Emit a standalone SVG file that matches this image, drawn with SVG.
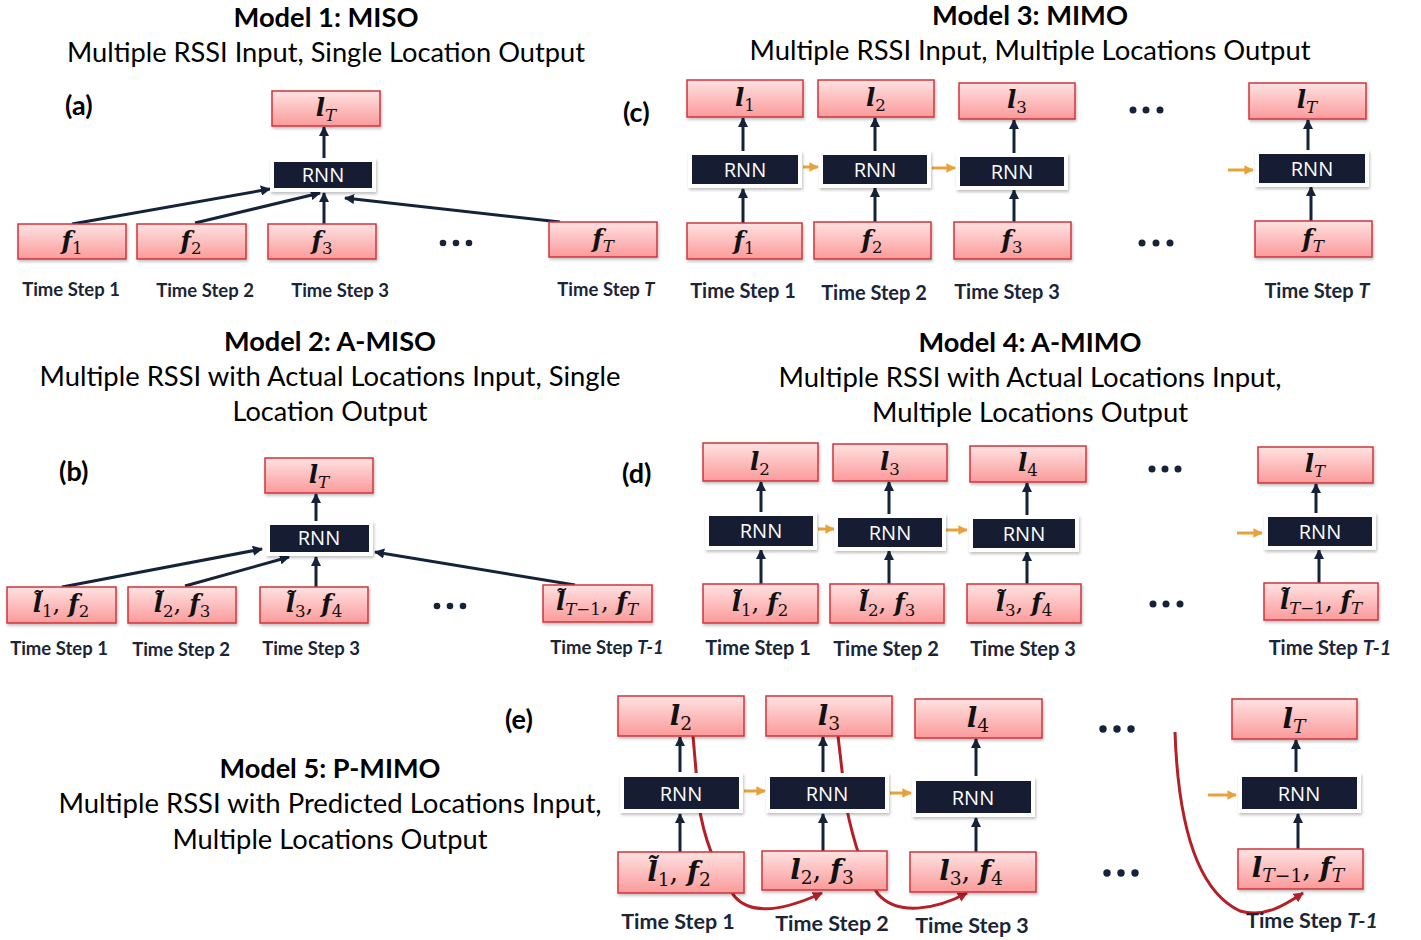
<svg xmlns="http://www.w3.org/2000/svg" width="1421" height="940" viewBox="0 0 1421 940">
<defs>
<linearGradient id="pg" x1="0" y1="0" x2="0" y2="1">
<stop offset="0" stop-color="#FFE2E2"/>
<stop offset="1" stop-color="#FB9A9A"/>
</linearGradient>
<filter id="sh" x="-10%" y="-20%" width="130%" height="160%">
<feDropShadow dx="1" dy="2" stdDeviation="1.5" flood-color="#000" flood-opacity="0.25"/>
</filter>
<marker id="ah" viewBox="0 0 10 10" refX="9" refY="5" markerWidth="3.4" markerHeight="3.4" orient="auto">
<path d="M0,0 L10,5 L0,10 z" fill="#15233A"/>
</marker>
<marker id="ao" viewBox="0 0 10 10" refX="9" refY="5" markerWidth="3.2" markerHeight="3.2" orient="auto">
<path d="M0,0 L10,5 L0,10 z" fill="#E9A23B"/>
</marker>
<marker id="ar" viewBox="0 0 10 10" refX="9" refY="5" markerWidth="3.4" markerHeight="3.4" orient="auto">
<path d="M0,0 L10,5 L0,10 z" fill="#B51F26"/>
</marker>
</defs>
<style>
.pk{fill:url(#pg);stroke:#D0343C;stroke-width:1.5;filter:url(#sh)}
.rn{fill:#131F32;stroke:#FFFFFF;stroke-width:4;filter:url(#sh)}
.rt{font-family:"Open Sans","Noto Sans",sans-serif;font-size:20px;fill:#FFFFFF;text-anchor:middle}
.m{font-family:"DejaVu Serif","Liberation Serif",serif;font-size:24.5px;fill:#111111;text-anchor:middle}
.mb{font-family:"DejaVu Serif","Liberation Serif",serif;font-size:27.5px;fill:#111111;text-anchor:middle}
.v{font-weight:bold;font-style:italic}
.s{font-size:0.68em;font-weight:normal;font-style:normal}
.si{font-size:0.68em;font-weight:normal;font-style:italic}
.ts{font-family:Lato,"Open Sans",sans-serif;font-weight:bold;fill:#1B2538;text-anchor:middle}
.t1{font-family:Lato,"Open Sans",sans-serif;font-weight:bold;font-size:27px;fill:#000;text-anchor:middle}
.t2{font-family:Lato,"Open Sans",sans-serif;font-size:26px;fill:#000;text-anchor:middle}
.pl{font-family:Lato,"Open Sans",sans-serif;font-weight:bold;font-size:27px;fill:#000}
.ln{stroke:#15233A;stroke-width:3;fill:none;marker-end:url(#ah)}
.lo{stroke:#E9A23B;stroke-width:3;fill:none;marker-end:url(#ao)}
.lr{stroke:#B51F26;stroke-width:3;fill:none;marker-end:url(#ar)}
.dt{fill:#15233A}
</style>
<rect width="1421" height="940" fill="#FFFFFF"/>

<!-- titles -->
<g id="titles">
<text class="t1" x="326" y="27" textLength="185" lengthAdjust="spacingAndGlyphs">Model 1: MISO</text>
<text class="t2" x="326" y="62" textLength="518" lengthAdjust="spacingAndGlyphs">Multiple RSSI Input, Single Location Output</text>
<text class="t1" x="1030" y="25" textLength="196" lengthAdjust="spacingAndGlyphs">Model 3: MIMO</text>
<text class="t2" x="1030" y="60" textLength="561" lengthAdjust="spacingAndGlyphs">Multiple RSSI Input, Multiple Locations Output</text>
<text class="t1" x="330" y="351" textLength="212" lengthAdjust="spacingAndGlyphs">Model 2: A-MISO</text>
<text class="t2" x="330" y="386" textLength="581" lengthAdjust="spacingAndGlyphs">Multiple RSSI with Actual Locations Input, Single</text>
<text class="t2" x="330" y="421" textLength="195" lengthAdjust="spacingAndGlyphs">Location Output</text>
<text class="t1" x="1030" y="352" textLength="223" lengthAdjust="spacingAndGlyphs">Model 4: A-MIMO</text>
<text class="t2" x="1030" y="387" textLength="503" lengthAdjust="spacingAndGlyphs">Multiple RSSI with Actual Locations Input,</text>
<text class="t2" x="1030" y="422" textLength="316" lengthAdjust="spacingAndGlyphs">Multiple Locations Output</text>
<text class="t1" x="330" y="778" textLength="221" lengthAdjust="spacingAndGlyphs">Model 5: P-MIMO</text>
<text class="t2" x="330" y="813" textLength="543" lengthAdjust="spacingAndGlyphs">Multiple RSSI with Predicted Locations Input,</text>
<text class="t2" x="330" y="849" textLength="315" lengthAdjust="spacingAndGlyphs">Multiple Locations Output</text>
<text class="pl" x="65" y="115">(a)</text>
<text class="pl" x="59" y="481">(b)</text>
<text class="pl" x="623" y="122">(c)</text>
<text class="pl" x="622" y="483">(d)</text>
<text class="pl" x="505" y="729">(e)</text>
</g>

<!-- connectors -->
<g id="connectors">
<!-- a -->
<line class="ln" x1="72" y1="224" x2="270" y2="189"/>
<line class="ln" x1="195" y1="223" x2="320" y2="193"/>
<line class="ln" x1="324" y1="224" x2="324" y2="193"/>
<line class="ln" x1="560" y1="222" x2="345" y2="198"/>
<line class="ln" x1="324" y1="158" x2="324" y2="127"/>
<!-- b -->
<line class="ln" x1="62" y1="587" x2="262" y2="549"/>
<line class="ln" x1="185" y1="586" x2="289" y2="557"/>
<line class="ln" x1="316" y1="587" x2="316" y2="557"/>
<line class="ln" x1="575" y1="585" x2="375" y2="552"/>
<line class="ln" x1="316" y1="521" x2="316" y2="494"/>
<!-- c -->
<line class="ln" x1="743" y1="151" x2="743" y2="118"/>
<line class="ln" x1="743" y1="223" x2="743" y2="189"/>
<line class="ln" x1="875" y1="151" x2="875" y2="118"/>
<line class="ln" x1="875" y1="222" x2="875" y2="188"/>
<line class="ln" x1="1014" y1="153" x2="1014" y2="120"/>
<line class="ln" x1="1014" y1="222" x2="1014" y2="190"/>
<line class="ln" x1="1308" y1="150" x2="1308" y2="120"/>
<line class="ln" x1="1311" y1="221" x2="1311" y2="187"/>
<line class="lo" x1="803" y1="167" x2="818" y2="167"/>
<line class="lo" x1="932" y1="168" x2="955" y2="168"/>
<line class="lo" x1="1228" y1="170" x2="1253" y2="170"/>
<!-- d -->
<line class="ln" x1="761" y1="512" x2="761" y2="482"/>
<line class="ln" x1="761" y1="584" x2="761" y2="550"/>
<line class="ln" x1="889" y1="514" x2="889" y2="482"/>
<line class="ln" x1="889" y1="584" x2="889" y2="551"/>
<line class="ln" x1="1027" y1="515" x2="1027" y2="483"/>
<line class="ln" x1="1027" y1="584" x2="1027" y2="552"/>
<line class="ln" x1="1316" y1="513" x2="1316" y2="484"/>
<line class="ln" x1="1319" y1="583" x2="1319" y2="550"/>
<line class="lo" x1="818" y1="529" x2="834" y2="529"/>
<line class="lo" x1="946" y1="530" x2="967" y2="530"/>
<line class="lo" x1="1237" y1="533" x2="1262" y2="533"/>
<!-- e -->
<path class="lr" d="M693,736 L699,805 C703,835 716,872 735,897 C752,916 785,910 822,893"/>
<path class="lr" d="M838,736 L846,805 C852,835 862,872 878,894 C897,916 935,910 967,893"/>
<path class="lr" d="M1175,732 C1178,820 1195,890 1240,911 C1265,918 1285,905 1303,893"/>
<line class="ln" x1="680" y1="772" x2="680" y2="737"/>
<line class="ln" x1="680" y1="852" x2="680" y2="814"/>
<line class="ln" x1="823" y1="772" x2="823" y2="737"/>
<line class="ln" x1="823" y1="851" x2="823" y2="814"/>
<line class="ln" x1="976" y1="776" x2="976" y2="739"/>
<line class="ln" x1="976" y1="852" x2="976" y2="818"/>
<line class="ln" x1="1296" y1="772" x2="1296" y2="740"/>
<line class="ln" x1="1298" y1="849" x2="1298" y2="814"/>
<line class="lo" x1="744" y1="791" x2="765" y2="791"/>
<line class="lo" x1="890" y1="793" x2="911" y2="793"/>
<line class="lo" x1="1208" y1="795" x2="1236" y2="795"/>
</g>

<!-- panel a -->
<g id="a-lT"><rect class="pk" x="272" y="91" width="108" height="35"/><text class="m" x="326" y="116"><tspan class="v">l</tspan><tspan class="si" dy="5">T</tspan></text></g>
<g id="a-rnn"><rect class="rn" x="272" y="160" width="102" height="30"/><text class="rt" x="323" y="182">RNN</text></g>
<g id="a-f1"><rect class="pk" x="18" y="224" width="108" height="35"/><text class="m" x="72" y="249"><tspan class="v">f</tspan><tspan class="s" dy="5">1</tspan></text></g>
<g id="a-f2"><rect class="pk" x="137" y="224" width="109" height="35"/><text class="m" x="191" y="249"><tspan class="v">f</tspan><tspan class="s" dy="5">2</tspan></text></g>
<g id="a-f3"><rect class="pk" x="268" y="224" width="108" height="35"/><text class="m" x="322" y="249"><tspan class="v">f</tspan><tspan class="s" dy="5">3</tspan></text></g>
<g id="a-fT"><rect class="pk" x="549" y="222" width="108" height="35"/><text class="m" x="603" y="247"><tspan class="v">f</tspan><tspan class="si" dy="5">T</tspan></text></g>
<g id="a-labels">
<text class="ts" x="71" y="296" font-size="18.5">Time Step 1</text>
<text class="ts" x="205" y="297" font-size="18.5">Time Step 2</text>
<text class="ts" x="340" y="297" font-size="18.5">Time Step 3</text>
<text class="ts" x="606" y="296" font-size="18.5">Time Step <tspan font-style="italic">T</tspan></text>
<circle class="dt" cx="443" cy="243" r="3.3"/><circle class="dt" cx="456" cy="243" r="3.3"/><circle class="dt" cx="469" cy="243" r="3.3"/>
</g>

<!-- panel b -->
<g id="b-lT"><rect class="pk" x="265" y="458" width="108" height="35"/><text class="m" x="319" y="483"><tspan class="v">l</tspan><tspan class="si" dy="5">T</tspan></text></g>
<g id="b-rnn"><rect class="rn" x="268" y="523" width="103" height="31"/><text class="rt" x="319" y="545">RNN</text></g>
<g id="b-x1"><rect class="pk" x="7" y="587" width="109" height="36"/><text class="m" x="61" y="612"><tspan class="v">l̃</tspan><tspan class="s" dy="5">1</tspan><tspan dy="-5">, </tspan><tspan class="v">f</tspan><tspan class="s" dy="5">2</tspan></text></g>
<g id="b-x2"><rect class="pk" x="128" y="587" width="108" height="36"/><text class="m" x="182" y="612"><tspan class="v">l̃</tspan><tspan class="s" dy="5">2</tspan><tspan dy="-5">, </tspan><tspan class="v">f</tspan><tspan class="s" dy="5">3</tspan></text></g>
<g id="b-x3"><rect class="pk" x="260" y="587" width="108" height="36"/><text class="m" x="314" y="612"><tspan class="v">l̃</tspan><tspan class="s" dy="5">3</tspan><tspan dy="-5">, </tspan><tspan class="v">f</tspan><tspan class="s" dy="5">4</tspan></text></g>
<g id="b-xT"><rect class="pk" x="543" y="585" width="109" height="37"/><text class="m" x="597" y="610"><tspan class="v">l̃</tspan><tspan class="si" dy="5">T</tspan><tspan class="s">−1</tspan><tspan dy="-5">, </tspan><tspan class="v">f</tspan><tspan class="si" dy="5">T</tspan></text></g>
<g id="b-labels">
<text class="ts" x="59" y="655" font-size="18.5">Time Step 1</text>
<text class="ts" x="181" y="656" font-size="18.5">Time Step 2</text>
<text class="ts" x="311" y="655" font-size="18.5">Time Step 3</text>
<text class="ts" x="607" y="654" font-size="18.5">Time Step <tspan font-style="italic">T-1</tspan></text>
<circle class="dt" cx="437" cy="606" r="3.3"/><circle class="dt" cx="450" cy="606" r="3.3"/><circle class="dt" cx="463" cy="606" r="3.3"/>
</g>

<!-- panel c -->
<g id="c-l1"><rect class="pk" x="687" y="80" width="116" height="37"/><text class="m" x="745" y="106"><tspan class="v">l</tspan><tspan class="s" dy="5">1</tspan></text></g>
<g id="c-l2"><rect class="pk" x="818" y="80" width="116" height="37"/><text class="m" x="876" y="106"><tspan class="v">l</tspan><tspan class="s" dy="5">2</tspan></text></g>
<g id="c-l3"><rect class="pk" x="959" y="83" width="116" height="36"/><text class="m" x="1017" y="108"><tspan class="v">l</tspan><tspan class="s" dy="5">3</tspan></text></g>
<g id="c-lT"><rect class="pk" x="1249" y="83" width="117" height="36"/><text class="m" x="1307" y="108"><tspan class="v">l</tspan><tspan class="si" dy="5">T</tspan></text></g>
<g id="c-rnn1"><rect class="rn" x="690" y="153" width="110" height="33"/><text class="rt" x="745" y="177">RNN</text></g>
<g id="c-rnn2"><rect class="rn" x="821" y="153" width="108" height="33"/><text class="rt" x="875" y="177">RNN</text></g>
<g id="c-rnn3"><rect class="rn" x="958" y="155" width="108" height="33"/><text class="rt" x="1012" y="179">RNN</text></g>
<g id="c-rnnT"><rect class="rn" x="1257" y="152" width="110" height="33"/><text class="rt" x="1312" y="176">RNN</text></g>
<g id="c-f1"><rect class="pk" x="687" y="223" width="115" height="36"/><text class="m" x="744" y="249"><tspan class="v">f</tspan><tspan class="s" dy="5">1</tspan></text></g>
<g id="c-f2"><rect class="pk" x="814" y="222" width="117" height="37"/><text class="m" x="872" y="248"><tspan class="v">f</tspan><tspan class="s" dy="5">2</tspan></text></g>
<g id="c-f3"><rect class="pk" x="954" y="222" width="117" height="37"/><text class="m" x="1012" y="248"><tspan class="v">f</tspan><tspan class="s" dy="5">3</tspan></text></g>
<g id="c-fT"><rect class="pk" x="1255" y="221" width="117" height="36"/><text class="m" x="1313" y="247"><tspan class="v">f</tspan><tspan class="si" dy="5">T</tspan></text></g>
<g id="c-labels">
<text class="ts" x="743" y="298" font-size="20">Time Step 1</text>
<text class="ts" x="874" y="300" font-size="20">Time Step 2</text>
<text class="ts" x="1007" y="299" font-size="20">Time Step 3</text>
<text class="ts" x="1317" y="298" font-size="20">Time Step <tspan font-style="italic">T</tspan></text>
<circle class="dt" cx="1133" cy="110" r="3.5"/><circle class="dt" cx="1146" cy="110" r="3.5"/><circle class="dt" cx="1160" cy="110" r="3.5"/>
<circle class="dt" cx="1142" cy="243" r="3.5"/><circle class="dt" cx="1156" cy="243" r="3.5"/><circle class="dt" cx="1170" cy="243" r="3.5"/>
</g>

<!-- panel d -->
<g id="d-l2"><rect class="pk" x="703" y="443" width="115" height="38"/><text class="m" x="760" y="470"><tspan class="v">l</tspan><tspan class="s" dy="5">2</tspan></text></g>
<g id="d-l3"><rect class="pk" x="833" y="444" width="114" height="37"/><text class="m" x="890" y="470"><tspan class="v">l</tspan><tspan class="s" dy="5">3</tspan></text></g>
<g id="d-l4"><rect class="pk" x="970" y="446" width="116" height="36"/><text class="m" x="1028" y="471"><tspan class="v">l</tspan><tspan class="s" dy="5">4</tspan></text></g>
<g id="d-lT"><rect class="pk" x="1258" y="447" width="115" height="36"/><text class="m" x="1315" y="472"><tspan class="v">l</tspan><tspan class="si" dy="5">T</tspan></text></g>
<g id="d-rnn1"><rect class="rn" x="707" y="514" width="108" height="34"/><text class="rt" x="761" y="538">RNN</text></g>
<g id="d-rnn2"><rect class="rn" x="836" y="516" width="108" height="33"/><text class="rt" x="890" y="540">RNN</text></g>
<g id="d-rnn3"><rect class="rn" x="971" y="517" width="106" height="33"/><text class="rt" x="1024" y="541">RNN</text></g>
<g id="d-rnnT"><rect class="rn" x="1266" y="515" width="108" height="33"/><text class="rt" x="1320" y="539">RNN</text></g>
<g id="d-x1"><rect class="pk" x="703" y="584" width="115" height="39"/><text class="m" x="760" y="611"><tspan class="v">l̃</tspan><tspan class="s" dy="5">1</tspan><tspan dy="-5">, </tspan><tspan class="v">f</tspan><tspan class="s" dy="5">2</tspan></text></g>
<g id="d-x2"><rect class="pk" x="830" y="584" width="114" height="39"/><text class="m" x="887" y="611"><tspan class="v">l̃</tspan><tspan class="s" dy="5">2</tspan><tspan dy="-5">, </tspan><tspan class="v">f</tspan><tspan class="s" dy="5">3</tspan></text></g>
<g id="d-x3"><rect class="pk" x="967" y="584" width="114" height="39"/><text class="m" x="1024" y="611"><tspan class="v">l̃</tspan><tspan class="s" dy="5">3</tspan><tspan dy="-5">, </tspan><tspan class="v">f</tspan><tspan class="s" dy="5">4</tspan></text></g>
<g id="d-xT"><rect class="pk" x="1264" y="583" width="114" height="37"/><text class="m" x="1321" y="609"><tspan class="v">l̃</tspan><tspan class="si" dy="5">T</tspan><tspan class="s">−1</tspan><tspan dy="-5">, </tspan><tspan class="v">f</tspan><tspan class="si" dy="5">T</tspan></text></g>
<g id="d-labels">
<text class="ts" x="758" y="655" font-size="20">Time Step 1</text>
<text class="ts" x="886" y="656" font-size="20">Time Step 2</text>
<text class="ts" x="1023" y="656" font-size="20">Time Step 3</text>
<text class="ts" x="1330" y="655" font-size="20">Time Step <tspan font-style="italic">T-1</tspan></text>
<circle class="dt" cx="1152" cy="469" r="3.5"/><circle class="dt" cx="1165" cy="469" r="3.5"/><circle class="dt" cx="1178" cy="469" r="3.5"/>
<circle class="dt" cx="1153" cy="604" r="3.5"/><circle class="dt" cx="1166" cy="604" r="3.5"/><circle class="dt" cx="1180" cy="604" r="3.5"/>
</g>

<!-- panel e -->
<g id="e-l2"><rect class="pk" x="618" y="696" width="126" height="40"/><text class="mb" x="681" y="725"><tspan class="v">l</tspan><tspan class="s" dy="5">2</tspan></text></g>
<g id="e-l3"><rect class="pk" x="766" y="696" width="126" height="40"/><text class="mb" x="829" y="725"><tspan class="v">l</tspan><tspan class="s" dy="5">3</tspan></text></g>
<g id="e-l4"><rect class="pk" x="915" y="699" width="127" height="39"/><text class="mb" x="978" y="727"><tspan class="v">l</tspan><tspan class="s" dy="5">4</tspan></text></g>
<g id="e-lT"><rect class="pk" x="1232" y="699" width="125" height="40"/><text class="mb" x="1294" y="728"><tspan class="v">l</tspan><tspan class="si" dy="5">T</tspan></text></g>
<g id="e-rnn1"><rect class="rn" x="622" y="775" width="119" height="36"/><text class="rt" x="681" y="801" font-size="22">RNN</text></g>
<g id="e-rnn2"><rect class="rn" x="768" y="775" width="119" height="36"/><text class="rt" x="827" y="801" font-size="22">RNN</text></g>
<g id="e-rnn3"><rect class="rn" x="914" y="779" width="119" height="36"/><text class="rt" x="973" y="805" font-size="22">RNN</text></g>
<g id="e-rnnT"><rect class="rn" x="1240" y="775" width="119" height="36"/><text class="rt" x="1299" y="801" font-size="22">RNN</text></g>
<g id="e-x1"><rect class="pk" x="618" y="852" width="126" height="41"/><text class="mb" x="679" y="881"><tspan class="v">l̃</tspan><tspan class="s" dy="5">1</tspan><tspan dy="-5">, </tspan><tspan class="v">f</tspan><tspan class="s" dy="5">2</tspan></text></g>
<g id="e-x2"><rect class="pk" x="762" y="851" width="125" height="39"/><text class="mb" x="822" y="879"><tspan class="v">l</tspan><tspan class="s" dy="5">2</tspan><tspan dy="-5">, </tspan><tspan class="v">f</tspan><tspan class="s" dy="5">3</tspan></text></g>
<g id="e-x3"><rect class="pk" x="910" y="852" width="126" height="40"/><text class="mb" x="971" y="880"><tspan class="v">l</tspan><tspan class="s" dy="5">3</tspan><tspan dy="-5">, </tspan><tspan class="v">f</tspan><tspan class="s" dy="5">4</tspan></text></g>
<g id="e-xT"><rect class="pk" x="1238" y="849" width="125" height="40"/><text class="mb" x="1298" y="877"><tspan class="v">l</tspan><tspan class="si" dy="5">T</tspan><tspan class="s">−1</tspan><tspan dy="-5">, </tspan><tspan class="v">f</tspan><tspan class="si" dy="5">T</tspan></text></g>
<g id="e-labels">
<text class="ts" x="678" y="929" font-size="21.5">Time Step 1</text>
<text class="ts" x="832" y="931" font-size="21.5">Time Step 2</text>
<text class="ts" x="972" y="933" font-size="21.5">Time Step 3</text>
<text class="ts" x="1312" y="928" font-size="21.5">Time Step <tspan font-style="italic">T-1</tspan></text>
<circle class="dt" cx="1103" cy="729" r="3.7"/><circle class="dt" cx="1117" cy="729" r="3.7"/><circle class="dt" cx="1131" cy="729" r="3.7"/>
<circle class="dt" cx="1107" cy="873" r="3.7"/><circle class="dt" cx="1121" cy="873" r="3.7"/><circle class="dt" cx="1135" cy="873" r="3.7"/>
</g>
</svg>
